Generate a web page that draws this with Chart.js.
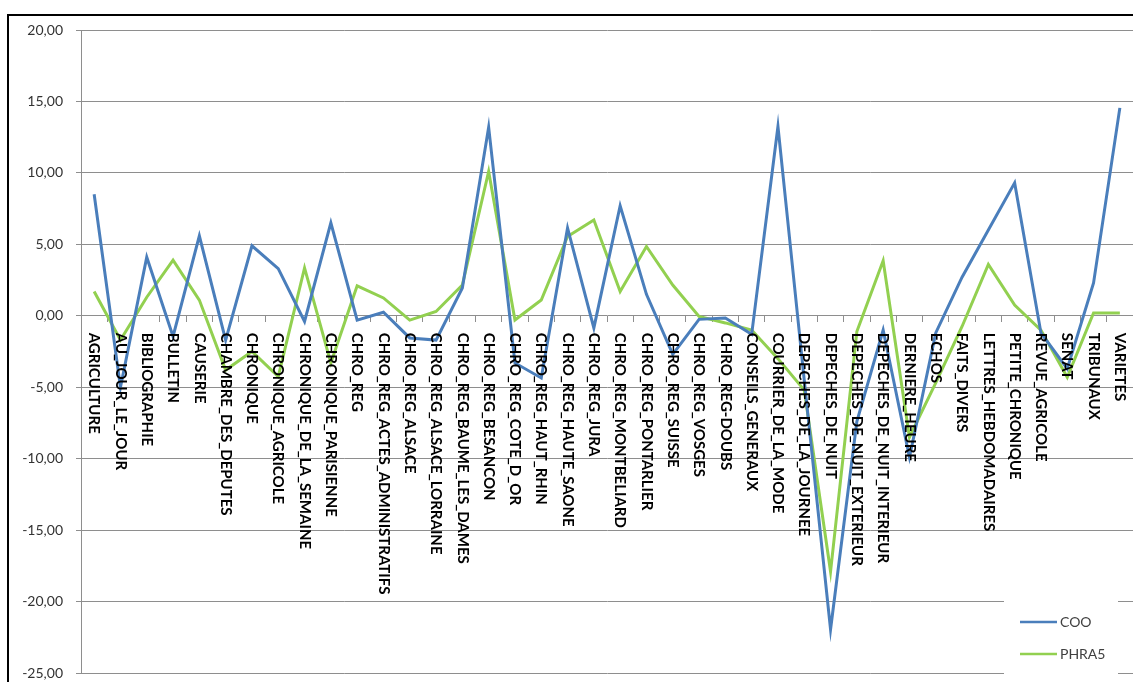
<!DOCTYPE html>
<html>
<head>
<meta charset="utf-8">
<script src="https://cdn.jsdelivr.net/npm/chart.js@4.4.1/dist/chart.umd.min.js"></script>
<style>
  html, body { margin: 0; padding: 0; background: #fff; overflow: hidden; }
  #wrap { position: absolute; left: 0; top: 0; width: 1133px; height: 682px; }
  #frame { position: absolute; left: 7px; top: 14px; width: 2000px; height: 2000px;
           border-left: 2px solid #000; border-top: 2px solid #000; pointer-events: none; }
</style>
</head>
<body>
<div id="wrap">
  <canvas id="chart" width="1133" height="682"></canvas>
  <div id="frame"></div>
</div>
<script>
const categories = [
  'AGRICULTURE', 'AU_JOUR_LE_JOUR', 'BIBLIOGRAPHIE', 'BULLETIN', 'CAUSERIE',
  'CHAMBRE_DES_DEPUTES', 'CHRONIQUE', 'CHRONIQUE_AGRICOLE', 'CHRONIQUE_DE_LA_SEMAINE',
  'CHRONIQUE_PARISIENNE', 'CHRO_REG', 'CHRO_REG_ACTES_ADMINISTRATIFS', 'CHRO_REG_ALSACE',
  'CHRO_REG_ALSACE_LORRAINE', 'CHRO_REG_BAUME_LES_DAMES', 'CHRO_REG_BESANCON',
  'CHRO_REG_COTE_D_OR', 'CHRO_REG_HAUT_RHIN', 'CHRO_REG_HAUTE_SAONE', 'CHRO_REG_JURA',
  'CHRO_REG_MONTBELIARD', 'CHRO_REG_PONTARLIER', 'CHRO_REG_SUISSE', 'CHRO_REG_VOSGES',
  'CHRO_REG-DOUBS', 'CONSEILS_GENERAUX', 'COURRIER_DE_LA_MODE', 'DEPECHES_DE_LA_JOURNEE',
  'DEPECHES_DE_NUIT', 'DEPECHES_DE_NUIT_EXTERIEUR', 'DEPECHES_DE_NUIT_INTERIEUR',
  'DERNIERE_HEURE', 'ECHOS', 'FAITS_DIVERS', 'LETTRES_HEBDOMADAIRES', 'PETITE_CHRONIQUE',
  'REVUE_AGRICOLE', 'SENAT', 'TRIBUNAUX', 'VARIETES'
];

const cooValues = [
  8.5, -5.0, 4.1, -1.45, 5.6, -1.7, 4.9, 3.3, -0.4, 6.5,
  -0.3, 0.25, -1.55, -1.7, 1.95, 13.2, -3.3, -4.35, 6.15, -0.85,
  7.7, 1.5, -2.7, -0.25, -0.15, -1.3, 13.25, -4.5, -21.95, -7.4,
  -1.0, -9.9, -1.2, 2.7, 6.0, 9.3, -1.2, -3.7, 2.3, 14.55
];

const phra5Values = [
  1.7, -1.7, 1.3, 3.9, 1.1, -3.8, -2.5, -4.25, 3.35, -3.3,
  2.1, 1.25, -0.3, 0.3, 2.15, 10.1, -0.3, 1.1, 5.55, 6.7,
  1.7, 4.85, 2.15, -0.05, -0.5, -1.0, -3.0, -5.2, -17.9, -1.1,
  3.85, -8.5, -4.7, -0.75, 3.6, 0.75, -1.0, -4.3, 0.2, 0.2
];

const yMin = -25;
const yMax = 20;
const yStep = 5;

const gridColor = '#8e8e8e';

// etiquettes de categories, tournees, sous la ligne du zero
const categoryLabels = {
  id: 'categoryLabels',
  afterDatasetsDraw(chart) {
    const ctx = chart.ctx;
    const xs = chart.scales.x;
    const y0 = chart.scales.y.getPixelForValue(0);
    ctx.save();
    ctx.font = 'bold 15px Lato';
    ctx.fillStyle = '#000';
    ctx.textAlign = 'left';
    ctx.textBaseline = 'middle';
    chart.data.labels.forEach((label, i) => {
      ctx.save();
      ctx.translate(xs.getPixelForValue(i), y0 + 17);
      ctx.rotate(Math.PI / 2);
      ctx.fillText(label, 0, 0);
      ctx.restore();
    });
    ctx.restore();
  }
};

// legende en bas a droite, sur fond blanc
const cornerLegend = {
  id: 'cornerLegend',
  afterDraw(chart) {
    const ctx = chart.ctx;
    ctx.save();
    ctx.fillStyle = '#fff';
    ctx.fillRect(1004, 595, 114, 87);
    ctx.font = '14px Lato';
    ctx.textBaseline = 'middle';
    ctx.textAlign = 'left';
    chart.data.datasets.forEach((ds, i) => {
      const y = 622 + i * 32;
      ctx.strokeStyle = ds.borderColor;
      ctx.lineWidth = 2.5;
      ctx.beginPath();
      ctx.moveTo(1020, y);
      ctx.lineTo(1057, y);
      ctx.stroke();
      ctx.fillStyle = '#404040';
      ctx.fillText(ds.label, 1060, y);
    });
    ctx.restore();
  }
};

const ctx = document.getElementById('chart').getContext('2d');
new Chart(ctx, {
  type: 'line',
  data: {
    labels: categories,
    datasets: [{
      label: 'COO',
      data: cooValues,
      borderColor: '#4a7ebb',
      backgroundColor: '#4a7ebb',
      borderWidth: 3,
      pointRadius: 0,
      tension: 0
    }, {
      label: 'PHRA5',
      data: phra5Values,
      borderColor: '#92d050',
      backgroundColor: '#92d050',
      borderWidth: 3,
      pointRadius: 0,
      tension: 0
    }]
  },
  options: {
    responsive: false,
    animation: false,
    devicePixelRatio: 1,
    layout: { padding: { left: 8, top: 30, right: 0, bottom: 9 } },
    plugins: {
      legend: { display: false },
      tooltip: { enabled: false }
    },
    scales: {
      x: {
        position: { y: 0 },
        offset: true,
        afterFit: (scale) => {
          scale.height = 0;
          scale.paddingTop = 0;
          scale.paddingBottom = 0;
        },
        grid: {
          display: true,
          offset: true,
          drawOnChartArea: false,
          drawTicks: true,
          tickLength: 6,
          color: gridColor
        },
        border: { display: false },
        ticks: { display: false }
      },
      y: {
        min: yMin,
        max: yMax,
        afterFit: (scale) => {
          scale.width = 73;
          scale.paddingBottom = 0;
        },
        ticks: {
          stepSize: yStep,
          padding: 13,
          color: '#333',
          font: { family: 'Lato', size: 14 },
          callback: (v) => v.toFixed(2).replace('.', ',')
        },
        grid: {
          color: gridColor,
          tickLength: 5,
          drawTicks: true
        },
        border: { display: true, color: gridColor }
      }
    }
  },
  plugins: [categoryLabels, cornerLegend]
});
</script>
</body>
</html>
